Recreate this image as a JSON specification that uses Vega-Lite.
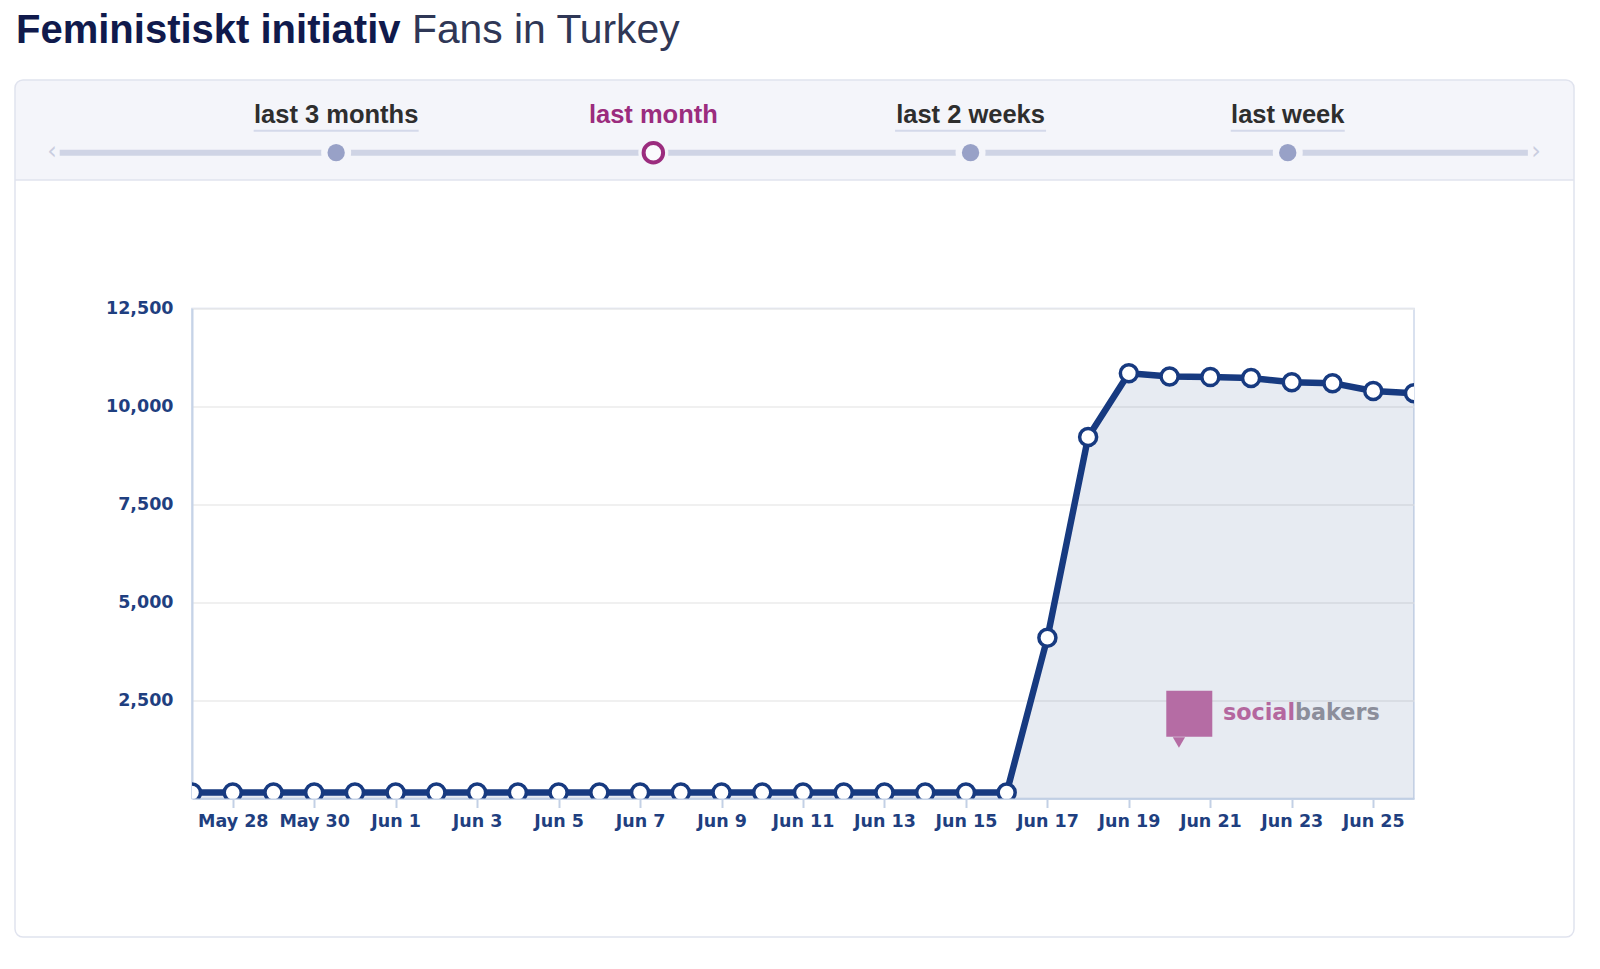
{
  "$schema": "https://vega.github.io/schema/vega-lite/v6.json",
  "background": "white",
  "padding": {"left": 14, "top": 10, "right": 20, "bottom": 12},
  "columns": 1,
  "align": "none",
  "spacing": -639.5,
  "config": {"font": "DejaVu Sans"},
  "datasets": {
    "tabs": [
      {"tab": "last 3 months", "idx": 1, "selected": false},
      {"tab": "last month", "idx": 2, "selected": true},
      {"tab": "last 2 weeks", "idx": 3, "selected": false},
      {"tab": "last week", "idx": 4, "selected": false}
    ],
    "fans": [
      {"date": "2014-05-27", "fans": 150},
      {"date": "2014-05-28", "fans": 150},
      {"date": "2014-05-29", "fans": 150},
      {"date": "2014-05-30", "fans": 150},
      {"date": "2014-05-31", "fans": 150},
      {"date": "2014-06-01", "fans": 150},
      {"date": "2014-06-02", "fans": 150},
      {"date": "2014-06-03", "fans": 150},
      {"date": "2014-06-04", "fans": 150},
      {"date": "2014-06-05", "fans": 150},
      {"date": "2014-06-06", "fans": 150},
      {"date": "2014-06-07", "fans": 150},
      {"date": "2014-06-08", "fans": 150},
      {"date": "2014-06-09", "fans": 150},
      {"date": "2014-06-10", "fans": 150},
      {"date": "2014-06-11", "fans": 150},
      {"date": "2014-06-12", "fans": 150},
      {"date": "2014-06-13", "fans": 150},
      {"date": "2014-06-14", "fans": 150},
      {"date": "2014-06-15", "fans": 150},
      {"date": "2014-06-16", "fans": 150},
      {"date": "2014-06-17", "fans": 4100},
      {"date": "2014-06-18", "fans": 9220},
      {"date": "2014-06-19", "fans": 10850},
      {"date": "2014-06-20", "fans": 10765},
      {"date": "2014-06-21", "fans": 10750},
      {"date": "2014-06-22", "fans": 10725},
      {"date": "2014-06-23", "fans": 10620},
      {"date": "2014-06-24", "fans": 10595},
      {"date": "2014-06-25", "fans": 10395},
      {"date": "2014-06-26", "fans": 10340}
    ]
  },
  "concat": [
    {
      "width": 1382,
      "height": 857,
      "view": {"fill": null, "stroke": null},
      "data": {"name": "tabs"},
      "layer": [
        {
          "data": {"values": [{}]},
          "mark": {"type": "rect", "color": "white", "cornerRadius": 8},
          "encoding": {
            "x": {"datum": -0.01245, "type": "quantitative", "scale": {"domain": [0.54556, 4.9024], "nice": false, "zero": false}, "axis": null},
            "x2": {"datum": 4.9024},
            "y": {"datum": -757, "type": "quantitative", "scale": {"domain": [-757, 100], "nice": false, "zero": false}, "axis": null},
            "y2": {"datum": 100}
          }
        },
        {
          "data": {"values": [{}]},
          "mark": {"type": "rect", "color": "#f4f5fa", "cornerRadiusTopLeft": 8, "cornerRadiusTopRight": 8},
          "encoding": {
            "x": {"datum": -0.01245, "type": "quantitative", "scale": {"domain": [0.54556, 4.9024], "nice": false, "zero": false}, "axis": null},
            "x2": {"datum": 4.9024},
            "y": {"datum": 0, "type": "quantitative", "scale": {"domain": [-757, 100], "nice": false, "zero": false}, "axis": null},
            "y2": {"datum": 100}
          }
        },
        {
          "data": {"values": [{}]},
          "mark": {"type": "rule", "color": "#e0e3ee", "strokeWidth": 1.5},
          "encoding": {
            "x": {"datum": -0.01245, "type": "quantitative", "scale": {"domain": [0.54556, 4.9024], "nice": false, "zero": false}, "axis": null},
            "x2": {"datum": 4.9024},
            "y": {"datum": 0, "type": "quantitative", "scale": {"domain": [-757, 100], "nice": false, "zero": false}, "axis": null}
          }
        },
        {
          "data": {"values": [{}]},
          "mark": {"type": "rect", "fill": null, "fillOpacity": 0, "stroke": "#e0e3ee", "strokeWidth": 1.5, "cornerRadius": 8},
          "encoding": {
            "x": {"datum": -0.01245, "type": "quantitative", "scale": {"domain": [0.54556, 4.9024], "nice": false, "zero": false}, "axis": null},
            "x2": {"datum": 4.9024},
            "y": {"datum": -757, "type": "quantitative", "scale": {"domain": [-757, 100], "nice": false, "zero": false}, "axis": null},
            "y2": {"datum": 100}
          }
        },
        {
          "data": {"values": [{}]},
          "mark": {"type": "rule", "color": "#cfd4e5", "strokeWidth": 6},
          "encoding": {
            "x": {"datum": 0.1285, "type": "quantitative", "scale": {"domain": [0.54556, 4.9024], "nice": false, "zero": false}, "axis": null},
            "x2": {"datum": 4.757},
            "y": {"datum": 27.3, "type": "quantitative", "scale": {"domain": [-757, 100], "nice": false, "zero": false}, "axis": null}
          }
        },
        {
          "data": {"values": [{}]},
          "mark": {"type": "text", "text": "‹", "font": "DejaVu Sans", "fontSize": 24, "color": "#c9cde0", "baseline": "middle", "align": "center"},
          "encoding": {
            "x": {"datum": 0.104, "type": "quantitative", "scale": {"domain": [0.54556, 4.9024], "nice": false, "zero": false}, "axis": null},
            "y": {"datum": 28.5, "type": "quantitative", "scale": {"domain": [-757, 100], "nice": false, "zero": false}, "axis": null}
          }
        },
        {
          "data": {"values": [{}]},
          "mark": {"type": "text", "text": "›", "font": "DejaVu Sans", "fontSize": 24, "color": "#c9cde0", "baseline": "middle", "align": "center"},
          "encoding": {
            "x": {"datum": 4.783, "type": "quantitative", "scale": {"domain": [0.54556, 4.9024], "nice": false, "zero": false}, "axis": null},
            "y": {"datum": 28.5, "type": "quantitative", "scale": {"domain": [-757, 100], "nice": false, "zero": false}, "axis": null}
          }
        },
        {
          "mark": {"type": "point", "shape": "circle", "filled": true, "color": "#f4f5fa", "size": 900, "opacity": 1},
          "encoding": {
            "x": {"field": "idx", "type": "quantitative", "scale": {"domain": [0.54556, 4.9024], "nice": false, "zero": false}, "axis": null},
            "y": {"datum": 27.3, "type": "quantitative", "scale": {"domain": [-757, 100], "nice": false, "zero": false}, "axis": null}
          }
        },
        {
          "transform": [{"filter": "!datum.selected"}],
          "mark": {"type": "point", "shape": "circle", "filled": true, "color": "#98a1c7", "size": 300, "opacity": 1},
          "encoding": {
            "x": {"field": "idx", "type": "quantitative", "scale": {"domain": [0.54556, 4.9024], "nice": false, "zero": false}, "axis": null},
            "y": {"datum": 27.3, "type": "quantitative", "scale": {"domain": [-757, 100], "nice": false, "zero": false}, "axis": null}
          }
        },
        {
          "transform": [{"filter": "datum.selected"}],
          "mark": {"type": "point", "shape": "circle", "filled": true, "fill": "#fafafd", "stroke": "#9b2c7e", "strokeWidth": 4, "size": 380, "opacity": 1},
          "encoding": {
            "x": {"field": "idx", "type": "quantitative", "scale": {"domain": [0.54556, 4.9024], "nice": false, "zero": false}, "axis": null},
            "y": {"datum": 27.3, "type": "quantitative", "scale": {"domain": [-757, 100], "nice": false, "zero": false}, "axis": null}
          }
        },
        {
          "transform": [{"filter": "!datum.selected"}],
          "mark": {"type": "tick", "orient": "horizontal", "thickness": 2, "color": "#d4d9ea", "opacity": 1},
          "encoding": {
            "x": {"field": "idx", "type": "quantitative", "scale": {"domain": [0.54556, 4.9024], "nice": false, "zero": false}, "axis": null},
            "y": {"datum": 49.3, "type": "quantitative", "scale": {"domain": [-757, 100], "nice": false, "zero": false}, "axis": null},
            "size": {"field": "tab", "type": "nominal", "scale": {"type": "ordinal", "domain": ["last 3 months", "last 2 weeks", "last week"], "range": [165, 151, 114]}, "legend": null}
          }
        },
        {
          "mark": {"type": "text", "font": "Liberation Sans", "fontWeight": "bold", "fontSize": 25.5, "baseline": "alphabetic", "align": "center"},
          "encoding": {
            "x": {"field": "idx", "type": "quantitative", "scale": {"domain": [0.54556, 4.9024], "nice": false, "zero": false}, "axis": null},
            "y": {"datum": 57, "type": "quantitative", "scale": {"domain": [-757, 100], "nice": false, "zero": false}, "axis": null},
            "text": {"field": "tab"},
            "color": {"condition": {"test": "datum.selected", "value": "#9b2c7e"}, "value": "#2e2e2e"}
          }
        },
        {
          "data": {"values": [{}]},
          "mark": {"type": "text", "text": "Feministiskt initiativ", "font": "Liberation Sans", "fontWeight": "bold", "fontSize": 40, "color": "#101a4c", "baseline": "alphabetic", "align": "left"},
          "encoding": {
            "x": {"datum": -0.0093, "type": "quantitative", "scale": {"domain": [0.54556, 4.9024], "nice": false, "zero": false}, "axis": null},
            "y": {"datum": 137, "type": "quantitative", "scale": {"domain": [-757, 100], "nice": false, "zero": false}, "axis": null}
          }
        },
        {
          "data": {"values": [{}]},
          "mark": {"type": "text", "text": "Fans in Turkey", "font": "Liberation Sans", "fontWeight": "normal", "fontSize": 40.8, "color": "#2f3756", "baseline": "alphabetic", "align": "left"},
          "encoding": {
            "x": {"datum": 1.2391, "type": "quantitative", "scale": {"domain": [0.54556, 4.9024], "nice": false, "zero": false}, "axis": null},
            "y": {"datum": 137, "type": "quantitative", "scale": {"domain": [-757, 100], "nice": false, "zero": false}, "axis": null}
          }
        }
      ]
    },
    {
      "width": 1222,
      "height": 490,
      "data": {"name": "fans"},
      "view": {"stroke": "#cdd8ea", "strokeWidth": 1.5},
      "layer": [
        {
          "mark": {"type": "area", "color": "#173a80", "opacity": 0.1, "clip": true},
          "encoding": {
            "x": {
              "field": "date", "type": "temporal",
              "scale": {"type": "utc", "domain": [{"year": 2014, "month": 5, "date": 27, "utc": true}, {"year": 2014, "month": 6, "date": 26, "utc": true}], "nice": false},
              "axis": {
                "title": null,
                "values": [
                  {"year": 2014, "month": 5, "date": 28, "utc": true},
                  {"year": 2014, "month": 5, "date": 30, "utc": true},
                  {"year": 2014, "month": 6, "date": 1, "utc": true},
                  {"year": 2014, "month": 6, "date": 3, "utc": true},
                  {"year": 2014, "month": 6, "date": 5, "utc": true},
                  {"year": 2014, "month": 6, "date": 7, "utc": true},
                  {"year": 2014, "month": 6, "date": 9, "utc": true},
                  {"year": 2014, "month": 6, "date": 11, "utc": true},
                  {"year": 2014, "month": 6, "date": 13, "utc": true},
                  {"year": 2014, "month": 6, "date": 15, "utc": true},
                  {"year": 2014, "month": 6, "date": 17, "utc": true},
                  {"year": 2014, "month": 6, "date": 19, "utc": true},
                  {"year": 2014, "month": 6, "date": 21, "utc": true},
                  {"year": 2014, "month": 6, "date": 23, "utc": true},
                  {"year": 2014, "month": 6, "date": 25, "utc": true}
                ],
                "format": "%b %-d",
                "grid": false,
                "labelFont": "DejaVu Sans", "labelFontWeight": "bold", "labelFontSize": 17.5, "labelColor": "#1f3f80",
                "labelPadding": 5, "labelFlush": false, "labelOverlap": false,
                "tickColor": "#c3d0e5", "tickSize": 9, "tickWidth": 2,
                "domainColor": "#c6d3e7", "domainWidth": 2
              }
            },
            "y": {
              "field": "fans", "type": "quantitative",
              "scale": {"domain": [0, 12500], "nice": false, "zero": true},
              "axis": {
                "title": null,
                "values": [2500, 5000, 7500, 10000, 12500],
                "format": ",.0f",
                "ticks": false,
                "labelPadding": 19,
                "minExtent": 177,
                "labelFont": "DejaVu Sans", "labelFontWeight": "bold", "labelFontSize": 17.5, "labelColor": "#1f3f80",
                "gridColor": "#ebebeb", "gridWidth": 1.5,
                "domainColor": "#c6d3e7", "domainWidth": 2
              }
            }
          }
        },
        {
          "mark": {"type": "line", "color": "#173a80", "strokeWidth": 6.5, "strokeJoin": "round", "clip": true},
          "encoding": {
            "x": {"field": "date", "type": "temporal"},
            "y": {"field": "fans", "type": "quantitative"}
          }
        },
        {
          "mark": {"type": "point", "shape": "circle", "filled": true, "fill": "white", "stroke": "#173a80", "strokeWidth": 3.5, "size": 290, "opacity": 1, "clip": true},
          "encoding": {
            "x": {"field": "date", "type": "temporal"},
            "y": {"field": "fans", "type": "quantitative"}
          }
        },
        {
          "data": {"values": [{}]},
          "mark": {"type": "point", "shape": "square", "filled": true, "color": "#b56ca4", "size": 2116, "opacity": 1},
          "encoding": {
            "x": {"datum": {"year": 2014, "month": 6, "date": 20, "hours": 11, "minutes": 36, "utc": true}, "type": "temporal"},
            "y": {"datum": 2161, "type": "quantitative"}
          }
        },
        {
          "data": {"values": [{}]},
          "mark": {"type": "point", "shape": "triangle-down", "filled": true, "color": "#b56ca4", "size": 150, "opacity": 1},
          "encoding": {
            "x": {"datum": {"year": 2014, "month": 6, "date": 20, "hours": 5, "minutes": 30, "utc": true}, "type": "temporal"},
            "y": {"datum": 1430, "type": "quantitative"}
          }
        },
        {
          "data": {"values": [{}]},
          "mark": {"type": "text", "text": "social", "font": "DejaVu Sans", "fontWeight": "bold", "fontSize": 22.3, "color": "#b4679f", "align": "right", "baseline": "alphabetic"},
          "encoding": {
            "x": {"datum": {"year": 2014, "month": 6, "date": 23, "hours": 1, "minutes": 54, "utc": true}, "type": "temporal"},
            "y": {"datum": 2010, "type": "quantitative"}
          }
        },
        {
          "data": {"values": [{}]},
          "mark": {"type": "text", "text": "bakers", "font": "DejaVu Sans", "fontWeight": "bold", "fontSize": 22.3, "color": "#8c8e9b", "align": "left", "baseline": "alphabetic"},
          "encoding": {
            "x": {"datum": {"year": 2014, "month": 6, "date": 23, "hours": 1, "minutes": 54, "utc": true}, "type": "temporal"},
            "y": {"datum": 2010, "type": "quantitative"}
          }
        }
      ]
    }
  ]
}
